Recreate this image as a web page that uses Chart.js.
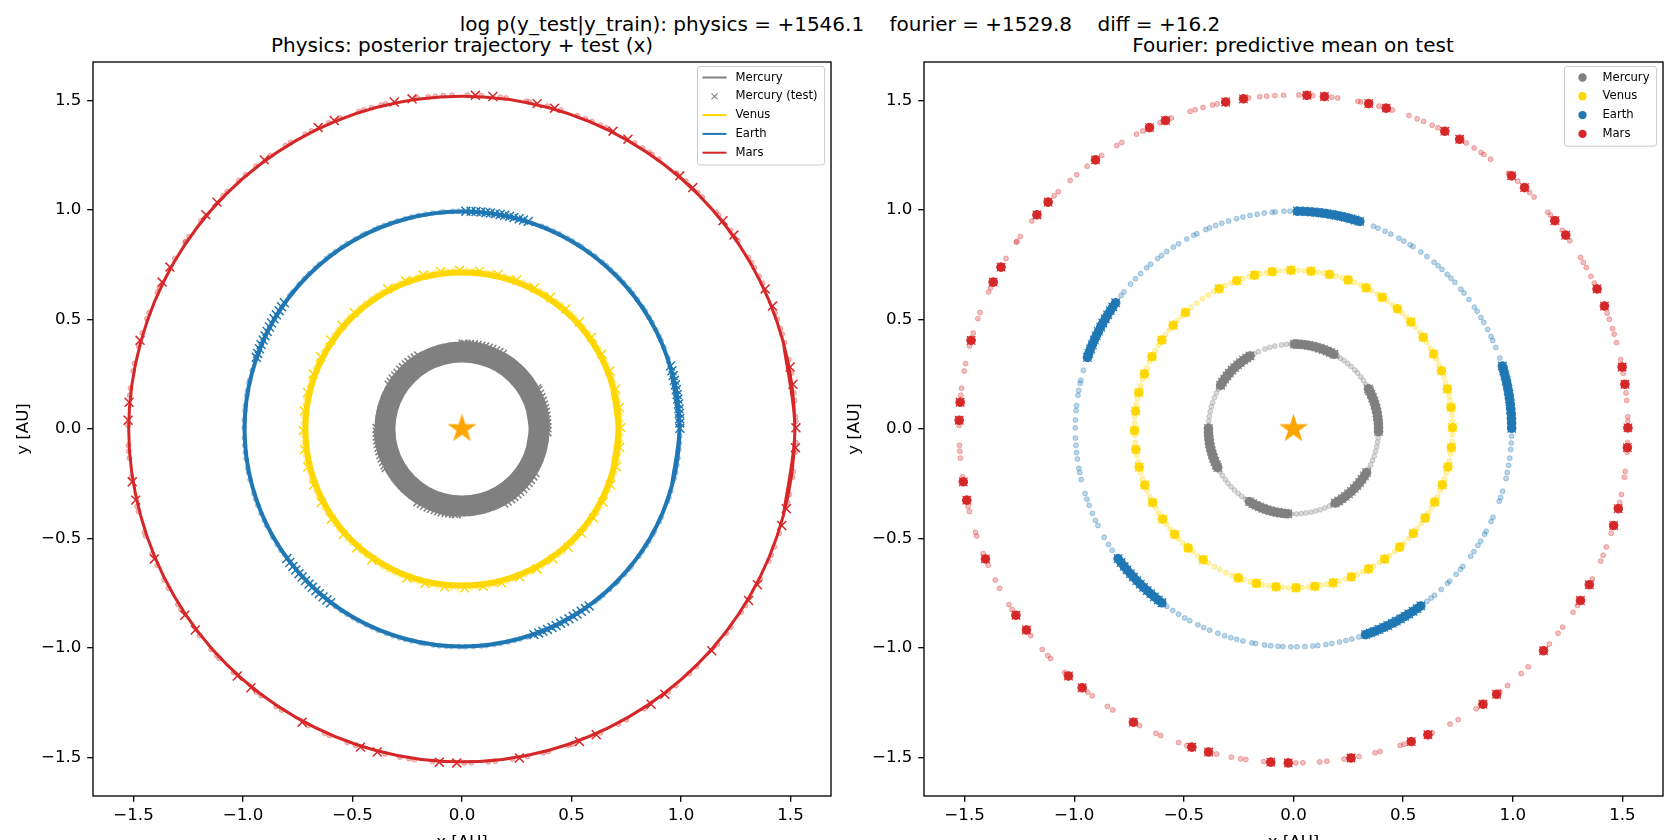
<!DOCTYPE html>
<html>
<head>
<meta charset="utf-8">
<script src="https://cdn.jsdelivr.net/npm/chart.js@4.4.1/dist/chart.umd.min.js"></script>
<style>
  body { margin: 0; width: 1680px; height: 840px; overflow: hidden; background: #fff; font-family: 'DejaVu Sans', sans-serif; }
  canvas { position: absolute; top: 0; }
  .t { position: absolute; font-size: 20px; white-space: pre; transform: translate(-50%, -50%); color: #000; }
</style>
</head>
<body>
<div class="t" style="left:840px;top:24px">log p(y_test|y_train): physics = +1546.1    fourier = +1529.8    diff = +16.2</div>
<div class="t" style="left:462px;top:45px">Physics: posterior trajectory + test (x)</div>
<div class="t" style="left:1293px;top:45px">Fourier: predictive mean on test</div>
<canvas id="phys" width="840" height="880" style="left:0"></canvas>
<canvas id="four" width="840" height="880" style="left:840px"></canvas>
<script>
// ---- data (AU / degrees) ----
const tickValues = [-1.5, -1.0, -0.5, 0.0, 0.5, 1.0, 1.5];
const xLimits = [-1.685, 1.685];
const yLimits = [-1.676, 1.676];

const planets = ['Mercury', 'Venus', 'Earth', 'Mars'];
// radius of the observed points
const obsRadius = [0.388, 0.725, 0.995, 1.525];

// posterior trajectory (physics model), x/y pairs around each orbit
const mercuryOrbit = [[0.352,0],[0.340,0.091],[0.305,0.176],[0.249,0.249],[0.176,0.305],[0.091,0.340],[0,0.352],[-0.091,0.340],[-0.176,0.305],[-0.249,0.249],[-0.305,0.176],[-0.340,0.091],[-0.352,0],[-0.340,-0.091],[-0.305,-0.176],[-0.249,-0.249],[-0.176,-0.305],[-0.091,-0.340],[0,-0.352],[0.091,-0.340],[0.176,-0.305],[0.249,-0.249],[0.305,-0.176],[0.340,-0.091]];
const venusOrbit = [[0.715,0],[0.691,0.185],[0.619,0.358],[0.506,0.506],[0.358,0.619],[0.185,0.691],[0,0.715],[-0.185,0.691],[-0.358,0.619],[-0.506,0.506],[-0.619,0.358],[-0.691,0.185],[-0.715,0],[-0.691,-0.185],[-0.619,-0.358],[-0.506,-0.506],[-0.358,-0.619],[-0.185,-0.691],[0,-0.715],[0.185,-0.691],[0.358,-0.619],[0.506,-0.506],[0.619,-0.358],[0.691,-0.185]];
const earthOrbit = [[0.993,0],[0.959,0.257],[0.860,0.497],[0.702,0.702],[0.497,0.860],[0.257,0.959],[0,0.993],[-0.257,0.959],[-0.497,0.860],[-0.702,0.702],[-0.860,0.497],[-0.959,0.257],[-0.993,0],[-0.959,-0.257],[-0.860,-0.497],[-0.702,-0.702],[-0.497,-0.860],[-0.257,-0.959],[0,-0.993],[0.257,-0.959],[0.497,-0.860],[0.702,-0.702],[0.860,-0.497],[0.959,-0.257]];
const marsOrbit = [[1.520,0],[1.468,0.393],[1.316,0.760],[1.075,1.075],[0.760,1.316],[0.393,1.468],[0,1.520],[-0.393,1.468],[-0.760,1.316],[-1.075,1.075],[-1.316,0.760],[-1.468,0.393],[-1.522,0],[-1.468,-0.393],[-1.316,-0.760],[-1.075,-1.075],[-0.760,-1.316],[-0.393,-1.468],[0,-1.520],[0.393,-1.468],[0.760,-1.316],[1.075,-1.075],[1.316,-0.760],[1.468,-0.393]];

// training observations (faint dots), polar angle in degrees
const mercuryTrainDeg = [31.5,34.8,37.9,41.2,44.0,47.3,50.5,53.6,56.4,59.0, 91.6,94.8,98.2,102.7,106.3,109.7,114.3,117.6, 151.8,155.0,158.3,161.9,164.8,168.1,171.5,174.6,177.4, 209.9,213.1,216.5,219.6,222.8,226.0,229.3,232.5,235.8, 268.8,272.0,275.3,278.5,281.9,285.0,288.2,291.6,294.9,297.3, 331.8,335.0,338.3,341.4,344.6,347.9,351.1,354.2,357.0];
const venusTrainDeg = [2.9,5.1,10.2,12.0,17.0,19.1,23.8,26.0,30.6,33.1,37.5,39.9,44.8,46.9,51.4,53.7,58.2,60.5,65.0,67.3,72.1,74.4,79.2,81.1,86.0,88.3,93.0,95.2,99.8,102.1,106.3,108.8,113.1,115.4,120.1,122.4,124.9,127.5,130.1,134.9,137.0,141.4,143.6,148.2,150.5,154.9,157.3,161.8,164.2,168.9,171.0,175.7,177.9,182.3,184.9,189.6,191.8,196.0,198.3,202.9,205.2,209.9,212.1,216.9,219.1,223.8,226.0,230.7,233.0,237.6,240.1,242.4,244.9,247.3,251.8,254.2,258.7,261.1,265.9,268.2,273.1,275.4,279.9,282.0,286.6,289.0,293.5,295.8,300.3,302.7,307.2,309.6,314.0,316.5,321.1,323.4,328.1,330.2,334.8,337.1,341.6,343.9,348.5,350.9,355.6,357.9];
const earthTrainDeg = [19.0,22.0,24.0,25.1,27.2,29.3,30.8,32.7,34.0,36.5,38.6,39.9,42.3,43.8,45.2,47.1,48.5,49.9,52.3,54.3,56.8,57.7,59.6,61.1,63.5,65.2,67.2,68.5, 90.9,92.5,94.8,95.6,97.7,99.6,101.5,103.4,105.1,107.3,109.2,110.9,112.6,113.7,116.3,117.2,119.3,121.8,123.4,125.5,127.2,128.5,130.9,132.3,134.5,136.4,138.3,141.0,142.2, 164.4,167.1,167.9,169.8,171.1,173.8,175.1,177.6,179.7,182.4,184.3,186.2,187.9,190.4,191.5,193.4,197.2,198.8,200.5,202.8,204.8,206.3,209.8,212.0,213.8, 234.5,236.4,238.2,240.1,241.6,244.0,245.7,247.4,249.7,251.6,253.3,254.9,256.6,259.0,260.0,262.4,264.0,265.9,267.2,269.3,270.9,273.0,275.1,276.4,278.5,280.1,282.2,283.9,285.5,287.4, 307.7,309.1,310.3,312.6,314.9,315.7,318.2,319.9,320.9,324.3,325.8,327.7,329.0,331.1,332.0,334.9,336.1,340.6,341.7,343.4,346.9,348.5,350.4,352.3,354.6,356.3,358.1];
const marsTrainDeg = [1.3,2.1,4.9,6.2,9.6,12.0,15.0,16.5,17.5,19.2,20.3,25.9,27.2,28.9,29.9,30.9,34.3,36.5,39.8,40.5,44.0,45.1,47.9,50.0,53.9,55.3,55.9,57.3,58.9,64.4,65.5,67.1,68.3,69.8,72.8,75.2,78.4,78.9,82.4,83.4,86.7,89.1,91.7,93.2,94.6,95.8,97.7,103.2,104.0,105.7,107.1,108.0,111.4,113.5,116.8,118.0,120.9,121.9,125.0,128.1,130.4,131.9,134.7,135.7,141.5,144.8,145.8,146.0,149.3,155.0,155.8,159.6,160.7,163.3,165.6,168.7,170.0,173.0,174.2,179.4, 182.8,183.8,185.0,188.2,193.4,194.3,198.0,198.7,201.9,204.1,206.9,208.5,211.7,212.7,218.2,221.3,222.7,223.4,226.8,232.0,233.0,236.2,237.3,242.6,245.7,246.6,249.9,251.4,256.7,259.3,260.9,261.8,264.9, 270.4,271.6,274.5,275.7,278.7,281.3,284.1,285.0,288.6,289.3,294.5,297.9,299.5,303.1,308.1,309.8,312.9,314.6,319.9,322.3,323.6,326.7,328.1,333.3,336.7,337.8,339.3,341.8,347.3,348.7,351.7,352.7,356.0,357.7];

// held-out test points (x markers, and Fourier predictive means)
const mercuryTestDeg = [358.2,0.8,3.5,6.0,8.6,11.3,13.8,16.5,19.0,21.7,24.2,26.8,28.2, 61.6,64.2,66.7,69.4,71.9,74.6,77.1,79.8,82.3,85.0,87.5,89.3, 120.7,123.4,125.9,128.6,131.0,133.7,136.2,138.9,141.3,144.0,146.6,149.0, 179.6,182.2,184.7,187.3,189.8,192.4,194.9,197.5,200.0,202.5,205.1,207.0, 238.8,241.4,243.9,246.5,249.0,251.6,254.1,256.6,259.2,261.7,264.2,266.1, 299.4,302.1,304.9,307.5,310.3,312.8,315.6,318.2,321.0,323.6,326.5,329.2];
const venusTestDeg = [0.5,7.8,14.6,21.5,28.2,35.3,42.4,49.2,56.1,62.8,69.9,76.9,83.7,90.9,97.7,104.2,110.9,117.9,132.8,139.2,145.9,152.9,159.7,166.7,173.5,180.5,187.4,193.9,200.7,207.6,214.6,221.6,228.5,235.4,249.7,256.5,263.7,270.9,277.7,284.4,291.3,298.2,305.0,311.9,318.9,325.9,332.6,339.4,346.2,353.3];
const earthTestDeg = [0.2,1.6,2.7,4.1,5.3,6.6,7.9,9.1,10.4,11.7,12.9,14.2,15.5,16.8, 72.3,73.6,74.8,76.2,77.4,78.7,79.9,81.2,82.5,83.7,85.0,86.3,87.6,89.0, 144.6,145.9,147.1,148.4,149.6,150.9,152.1,153.4,154.7,155.9,157.2,158.4,159.7,160.8, 216.5,217.8,219.1,220.3,221.6,222.8,224.1,225.4,226.6,227.9,229.1,230.4,231.7,232.9, 289.3,290.6,291.8,293.1,294.4,295.6,296.9,298.1,299.4,300.7,301.9,303.2,304.5,305.7];
const marsTestDeg = [0.2,7.7,10.7,21.6,24.8,35.5,38.6,46.3,49.3,60.2,63.1,73.9,77.0,84.7,87.7,98.6,101.7,112.5,115.5,126.3,137.2,140.1,151.0,153.9,164.6,175.4,178.5,189.1,192.3,202.9,213.9,217.0,227.7,230.8,241.4,252.3,255.3,266.1,269.1,279.9,290.6,293.7,304.5,307.4,318.4,329.1,332.2,343.2,346.2,356.8];

const sunPos = [{x: 0, y: 0}];

// ---- styling ----
const colors = ['#808080', '#ffd700', '#1f77b4', '#d62728'];
const orbits = [mercuryOrbit, venusOrbit, earthOrbit, marsOrbit];
const trains = [mercuryTrainDeg, venusTrainDeg, earthTrainDeg, marsTrainDeg];
const tests = [mercuryTestDeg, venusTestDeg, earthTestDeg, marsTestDeg];
const lineWidths = [21, 6, 4, 3];

Chart.defaults.font.family = "'DejaVu Sans', sans-serif";
Chart.defaults.color = '#000';

const polar = (degs, r) => degs.map(d => ({x: r * Math.cos(d * Math.PI / 180), y: r * Math.sin(d * Math.PI / 180)}));
const pairs = pts => pts.map(([x, y]) => ({x, y}));
const closeLoop = pts => [pts[pts.length - 1], ...pts, pts[0], pts[1]];
const alpha = (hex, a) => {
  const n = parseInt(hex.slice(1), 16);
  return `rgba(${n >> 16},${(n >> 8) & 255},${n & 255},${a})`;
};
const fmt = v => (v < 0 ? '\u2212' : '') + Math.abs(v).toFixed(1);

function starImage(R, color) {
  const c = document.createElement('canvas');
  const s = Math.ceil(2 * R + 2);
  c.width = c.height = s;
  const g = c.getContext('2d');
  g.translate(s / 2, s / 2);
  g.beginPath();
  for (let i = 0; i < 10; i++) {
    const r = i % 2 ? R * 0.382 : R;
    const a = -Math.PI / 2 + i * Math.PI / 5;
    g.lineTo(r * Math.cos(a), r * Math.sin(a));
  }
  g.closePath();
  g.fillStyle = color;
  g.fill();
  return c;
}
const star = starImage(15.2, '#ffa500');

const trainSet = i => ({
  data: polar(trains[i], obsRadius[i]),
  pointRadius: 2.5, borderWidth: 1,
  backgroundColor: alpha(colors[i], 0.3), borderColor: alpha(colors[i], 0.3)
});
const crossSet = (i, r, w) => ({
  data: polar(tests[i], obsRadius[i]),
  pointStyle: 'crossRot', pointRadius: r, borderWidth: w,
  borderColor: colors[i], backgroundColor: colors[i]
});
const sunSet = () => ({ data: sunPos, pointStyle: star, pointRadius: 15 });

// physics panel
const physSets = [];
planets.forEach((p, i) => {
  physSets.push(trainSet(i));
  physSets.push({
    data: closeLoop(pairs(orbits[i])), showLine: true, tension: 0.33,
    borderColor: colors[i], borderWidth: lineWidths[i], pointRadius: 0,
    borderJoinStyle: 'round', fill: false
  });
  physSets.push(crossSet(i, 6.3, 1.5));
});
physSets.push(sunSet());

// fourier panel
const fourSets = [];
planets.forEach((p, i) => {
  fourSets.push(trainSet(i));
  fourSets.push(crossSet(i, 6, 1.2));
  fourSets.push({
    data: polar(tests[i], obsRadius[i]),
    pointRadius: 4.3, borderWidth: 1,
    backgroundColor: colors[i], borderColor: colors[i]
  });
});
fourSets.push(sunSet());

[physSets, fourSets].forEach(ds => ds.forEach((d, i) => { d.order = ds.length - i; }));

const frame = {
  id: 'frame',
  afterDraw(chart) {
    const {ctx, chartArea: a} = chart;
    ctx.save();
    ctx.strokeStyle = '#000';
    ctx.lineWidth = 1.33;
    ctx.strokeRect(a.left, a.top, a.right - a.left, a.bottom - a.top);
    ctx.restore();
  }
};

const boxLegend = {
  id: 'boxLegend',
  afterDraw(chart, args, opts) {
    const {ctx, chartArea: a} = chart;
    const row = 18.8;
    ctx.save();
    ctx.font = '11.6px "DejaVu Sans"';
    const textW = Math.max(...opts.entries.map(e => ctx.measureText(e.label).width));
    const w = 38 + textW + 7, h = opts.entries.length * row + 4.5;
    const x = a.right - 6.5 - w, y = a.top + 4.5;
    ctx.beginPath();
    ctx.roundRect(x, y, w, h, 2.5);
    ctx.fillStyle = 'rgba(255,255,255,0.8)';
    ctx.fill();
    ctx.strokeStyle = '#cccccc';
    ctx.lineWidth = 1;
    ctx.stroke();
    opts.entries.forEach((e, i) => {
      const cy = y + 11 + i * row, hc = x + 17;
      ctx.strokeStyle = e.color;
      ctx.fillStyle = e.color;
      if (e.kind === 'line') {
        ctx.lineWidth = 2;
        ctx.beginPath(); ctx.moveTo(x + 5, cy); ctx.lineTo(x + 29, cy); ctx.stroke();
      } else if (e.kind === 'x') {
        ctx.lineWidth = 1.2;
        ctx.beginPath();
        ctx.moveTo(hc - 3, cy - 3); ctx.lineTo(hc + 3, cy + 3);
        ctx.moveTo(hc - 3, cy + 3); ctx.lineTo(hc + 3, cy - 3);
        ctx.stroke();
      } else {
        ctx.beginPath(); ctx.arc(hc + 1, cy, 4.2, 0, Math.PI * 2); ctx.fill();
      }
      ctx.fillStyle = '#000';
      ctx.textBaseline = 'middle';
      ctx.textAlign = 'left';
      ctx.fillText(e.label, x + 38, cy);
    });
    ctx.restore();
  }
};

function axis(lim, title, titlePad, fixed, isX) {
  return {
    type: 'linear', min: lim[0], max: lim[1],
    afterBuildTicks: s => { s.ticks = tickValues.map(v => ({value: v})); },
    afterFit: s => {
      if (isX) s.height = fixed; else s.width = fixed;
      s.paddingLeft = s.paddingRight = s.paddingTop = s.paddingBottom = 0;
    },
    ticks: { callback: v => fmt(v), color: '#000', font: {size: 16.67}, padding: isX ? 4 : 5.8, maxRotation: 0, autoSkip: false },
    grid: { drawOnChartArea: false, color: '#000', tickLength: 5.8, lineWidth: 1.33 },
    border: { display: false },
    title: { display: true, text: title, color: '#000', font: {size: 16.67}, padding: isX ? {top: 0, bottom: titlePad} : {top: titlePad, bottom: 0} }
  };
}

function makeChart(id, datasets, yAxisWidth, padRight, legendEntries, yTitlePad) {
  return new Chart(document.getElementById(id), {
    type: 'scatter',
    data: { datasets },
    options: {
      responsive: false, animation: false, devicePixelRatio: 1, events: [],
      layout: { autoPadding: false, padding: { top: 62, right: padRight, bottom: 0, left: 0 } },
      scales: {
        x: axis(xLimits, 'x [AU]', 27, 84, true),
        y: axis(yLimits, 'y [AU]', yTitlePad, yAxisWidth, false)
      },
      plugins: {
        legend: { display: false },
        tooltip: { enabled: false },
        boxLegend: { entries: legendEntries }
      }
    },
    plugins: [frame, boxLegend]
  });
}

makeChart('phys', physSets, 93, 9, [
  {label: planets[0], kind: 'line', color: colors[0]},
  {label: planets[0] + ' (test)', kind: 'x', color: colors[0]},
  {label: planets[1], kind: 'line', color: colors[1]},
  {label: planets[2], kind: 'line', color: colors[2]},
  {label: planets[3], kind: 'line', color: colors[3]}
], 13.6);

makeChart('four', fourSets, 84, 17, planets.map((p, i) => ({label: p, kind: 'dot', color: colors[i]})), 5);
</script>
</body>
</html>
